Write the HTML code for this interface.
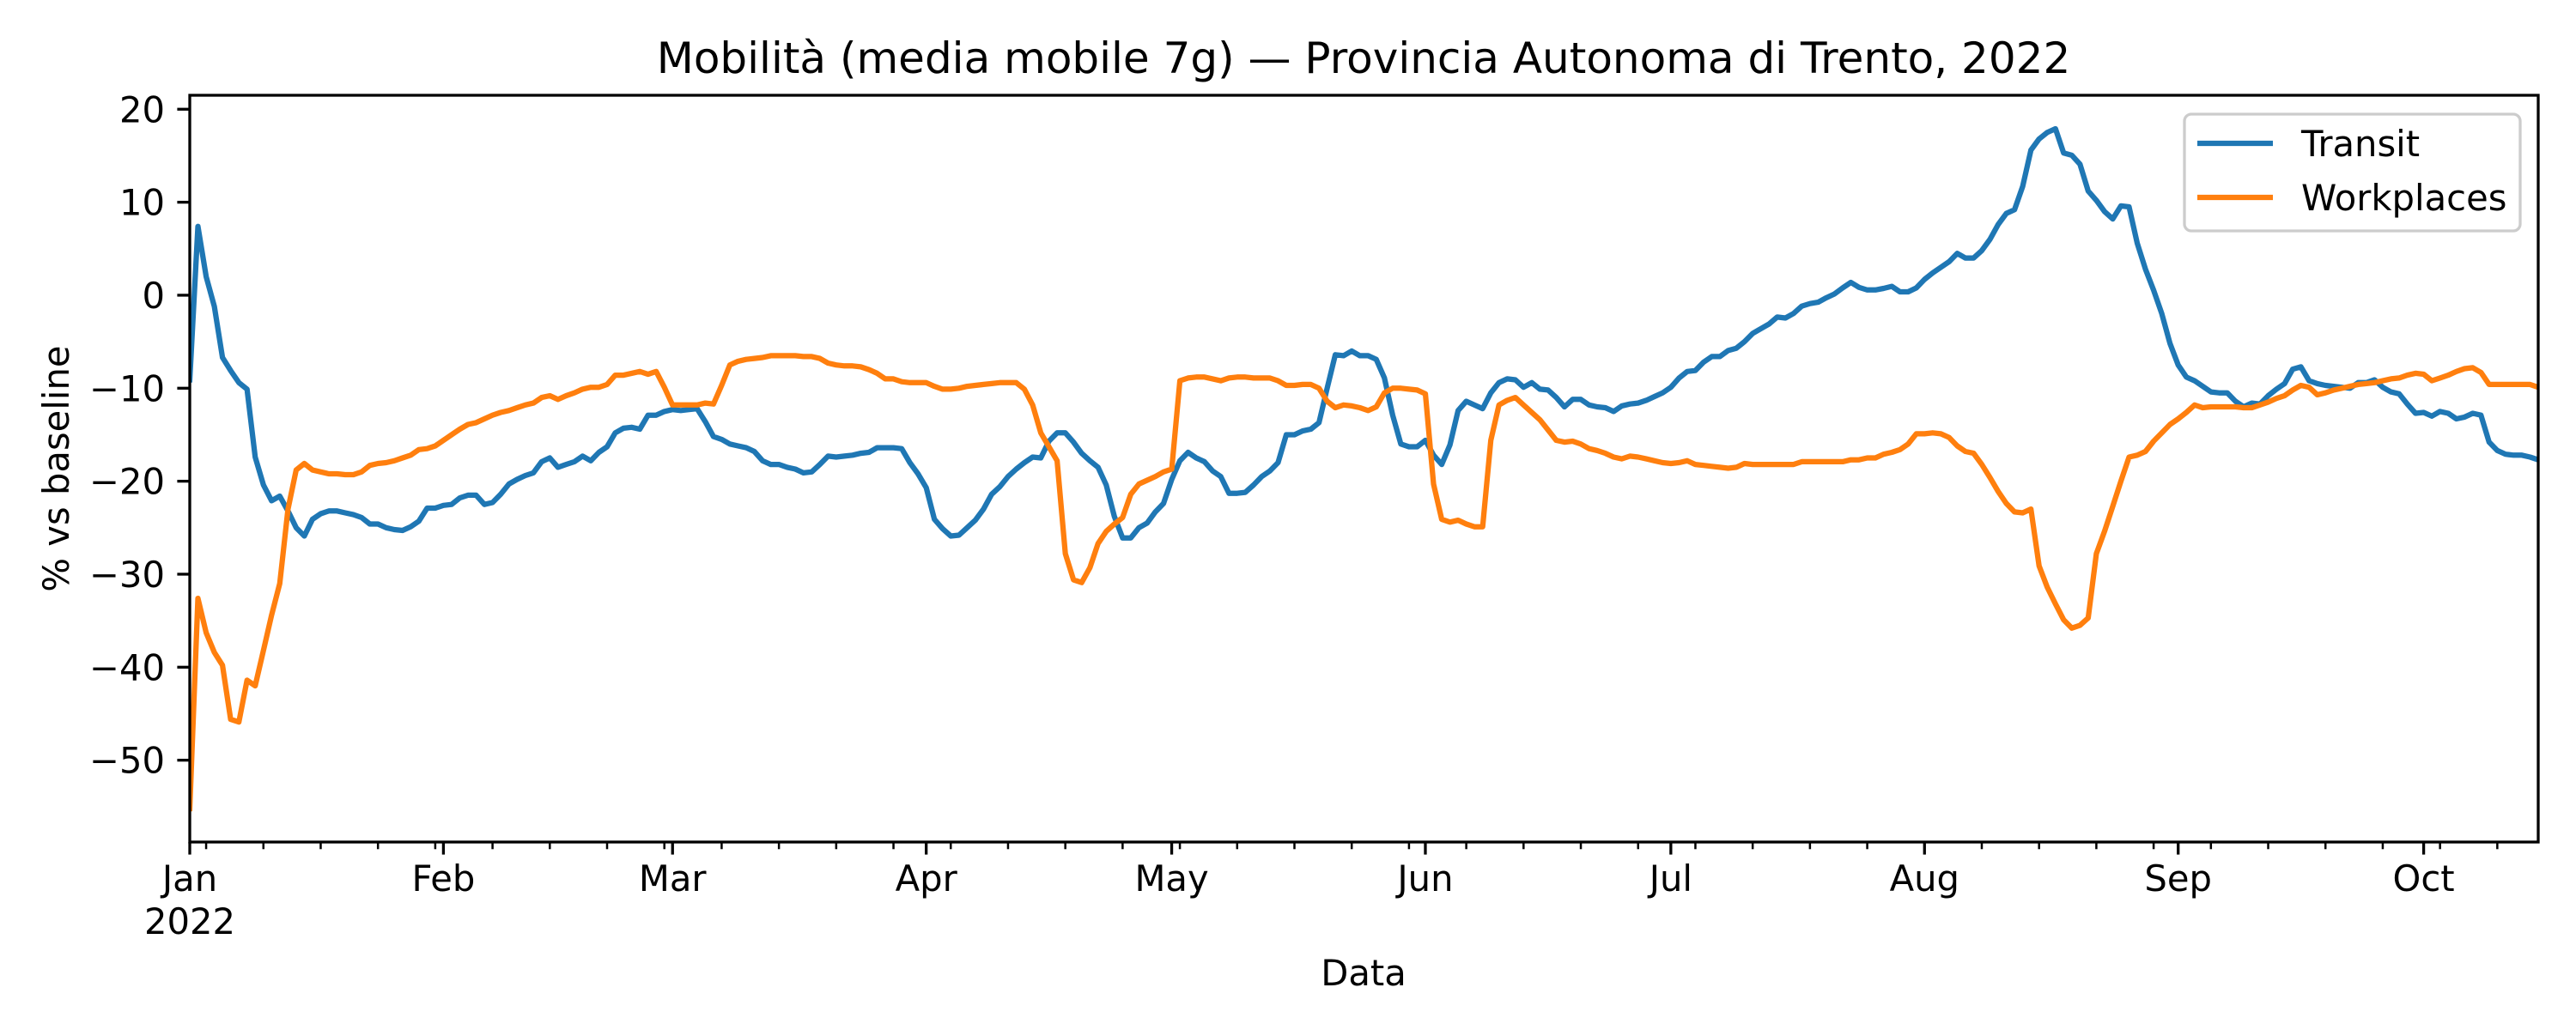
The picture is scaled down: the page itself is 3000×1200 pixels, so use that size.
<!DOCTYPE html>
<html><head><meta charset="utf-8"><style>
html,body{margin:0;padding:0;background:#fff;}
svg{display:block;font-family:"DejaVu Sans","Liberation Sans",sans-serif;}
</style></head><body>
<svg id="chart" width="3000" height="1200" viewBox="0 0 3000 1200" xmlns="http://www.w3.org/2000/svg">
<rect width="3000" height="1200" fill="#fff"/>
<text x="1588" y="85" text-anchor="middle" font-size="50" fill="#000">Mobilità (media mobile 7g) — Provincia Autonoma di Trento, 2022</text>
<g id="plot"></g>
<text x="1588" y="1148" text-anchor="middle" font-size="41.7" fill="#000">Data</text>
<text transform="translate(80,546) rotate(-90)" text-anchor="middle" font-size="41.7" fill="#000">% vs baseline</text>
<g>
<rect x="2544" y="133" width="391" height="136" rx="8" fill="#fff" fill-opacity="0.8" stroke="#cccccc" stroke-width="3.3"/>
<line x1="2559" y1="167" x2="2647" y2="167" stroke="#1f77b4" stroke-width="6.25"/>
<text x="2680" y="182" font-size="41.7" fill="#000">Transit</text>
<line x1="2559" y1="230" x2="2647" y2="230" stroke="#ff7f0e" stroke-width="6.25"/>
<text x="2680" y="245" font-size="41.7" fill="#000">Workplaces</text>
</g>
</svg>
<script>
const transit = [-9.1,7.4,2.0,-1.2,-6.7,-8.1,-9.4,-10.1,-17.4,-20.4,
-22.1,-21.6,-23.2,-25,-25.9,-24.1,-23.5,-23.2,-23.2,-23.4,
-23.6,-23.9,-24.6,-24.6,-25,-25.2,-25.3,-24.9,-24.3,-22.9,
-22.9,-22.6,-22.5,-21.8,-21.5,-21.5,-22.5,-22.3,-21.4,-20.3,
-19.8,-19.4,-19.1,-17.9,-17.5,-18.5,-18.2,-17.9,-17.3,-17.8,
-16.9,-16.3,-14.8,-14.3,-14.2,-14.4,-12.9,-12.9,-12.5,-12.3,
-12.4,-12.3,-12.2,-13.6,-15.2,-15.5,-16,-16.2,-16.4,-16.8,
-17.8,-18.2,-18.2,-18.5,-18.7,-19.1,-19,-18.2,-17.3,-17.4,
-17.3,-17.2,-17,-16.9,-16.4,-16.4,-16.4,-16.5,-18,-19.2,
-20.7,-24.1,-25.1,-25.9,-25.8,-25,-24.2,-23,-21.4,-20.6,
-19.5,-18.7,-18,-17.4,-17.5,-15.7,-14.8,-14.8,-15.8,-17,
-17.8,-18.5,-20.4,-23.8,-26.1,-26.1,-25,-24.5,-23.3,-22.4,
-19.8,-17.8,-16.9,-17.5,-17.9,-18.9,-19.5,-21.3,-21.3,-21.2,
-20.4,-19.5,-18.9,-18,-15,-15,-14.6,-14.4,-13.7,-10,
-6.4,-6.5,-6,-6.5,-6.5,-6.9,-8.9,-12.9,-16,-16.3,
-16.3,-15.6,-17.2,-18.2,-16.1,-12.4,-11.4,-11.8,-12.2,-10.5,
-9.4,-9,-9.1,-9.9,-9.4,-10.1,-10.2,-11,-12,-11.2,
-11.2,-11.8,-12,-12.1,-12.5,-11.9,-11.7,-11.6,-11.3,-10.9,
-10.5,-9.9,-8.9,-8.2,-8.1,-7.2,-6.6,-6.6,-5.95,-5.7,
-5,-4.1,-3.6,-3.1,-2.35,-2.45,-1.96,-1.18,-0.9,-0.75,
-0.27,0.14,0.79,1.38,0.84,0.57,0.57,0.73,0.95,0.36,
0.36,0.79,1.7,2.4,3,3.6,4.5,4,4,4.8,
6,7.6,8.8,9.2,11.7,15.6,16.8,17.5,17.9,15.3,
15.05,14.1,11.2,10.2,9,8.2,9.6,9.5,5.6,2.8,
0.54,-1.98,-5.2,-7.5,-8.8,-9.2,-9.8,-10.4,-10.5,-10.5,
-11.4,-12,-11.6,-11.7,-10.8,-10.1,-9.5,-7.95,-7.7,-9.2,
-9.5,-9.7,-9.8,-9.9,-10,-9.4,-9.4,-9.1,-9.9,-10.4,
-10.6,-11.7,-12.7,-12.6,-13,-12.5,-12.7,-13.3,-13.1,-12.7,
-12.9,-15.8,-16.7,-17.1,-17.2,-17.2,-17.4,-17.7];
const workplaces = [-55.2,-32.6,-36.3,-38.4,-39.8,-45.6,-45.9,-41.4,-42,-38.2,
-34.4,-31,-23,-18.8,-18.1,-18.8,-19,-19.2,-19.2,-19.3,
-19.3,-19,-18.3,-18.1,-18,-17.8,-17.5,-17.2,-16.6,-16.5,
-16.2,-15.6,-15,-14.4,-13.9,-13.7,-13.3,-12.9,-12.6,-12.4,
-12.1,-11.8,-11.6,-11,-10.8,-11.2,-10.8,-10.5,-10.1,-9.9,
-9.9,-9.6,-8.6,-8.6,-8.4,-8.2,-8.5,-8.2,-9.9,-11.8,
-11.8,-11.8,-11.8,-11.6,-11.7,-9.7,-7.5,-7.1,-6.9,-6.8,
-6.7,-6.5,-6.5,-6.5,-6.5,-6.6,-6.6,-6.8,-7.3,-7.5,
-7.6,-7.6,-7.7,-8,-8.4,-9,-9,-9.3,-9.4,-9.4,
-9.4,-9.8,-10.1,-10.1,-10,-9.8,-9.7,-9.6,-9.5,-9.4,
-9.4,-9.4,-10.1,-11.8,-14.8,-16.3,-17.8,-27.8,-30.6,-30.9,
-29.3,-26.7,-25.4,-24.6,-23.9,-21.4,-20.3,-19.9,-19.5,-19,
-18.7,-9.2,-8.9,-8.8,-8.8,-9,-9.2,-8.9,-8.8,-8.8,
-8.9,-8.9,-8.9,-9.2,-9.7,-9.7,-9.6,-9.6,-10,-11.4,
-12.1,-11.8,-11.9,-12.1,-12.4,-12,-10.5,-10,-10,-10.1,
-10.2,-10.6,-20.3,-24.1,-24.4,-24.2,-24.6,-24.9,-24.9,-15.6,
-11.8,-11.3,-11,-11.8,-12.6,-13.4,-14.5,-15.6,-15.8,-15.7,
-16,-16.5,-16.7,-17,-17.4,-17.6,-17.3,-17.4,-17.6,-17.8,
-18,-18.1,-18,-17.8,-18.2,-18.3,-18.4,-18.5,-18.6,-18.5,
-18.1,-18.2,-18.2,-18.2,-18.2,-18.2,-18.2,-17.9,-17.9,-17.9,
-17.9,-17.9,-17.9,-17.7,-17.7,-17.5,-17.5,-17.1,-16.9,-16.6,
-16,-14.9,-14.9,-14.8,-14.9,-15.3,-16.2,-16.8,-17,-18.2,
-19.6,-21.1,-22.4,-23.3,-23.4,-23,-29.1,-31.4,-33.2,-34.9,
-35.8,-35.5,-34.7,-27.8,-25.4,-22.7,-20,-17.4,-17.2,-16.8,
-15.7,-14.8,-13.9,-13.3,-12.6,-11.8,-12.1,-12,-12,-12,
-12,-12.1,-12.1,-11.8,-11.5,-11.1,-10.8,-10.2,-9.7,-9.9,
-10.7,-10.5,-10.2,-10,-9.8,-9.6,-9.5,-9.4,-9.2,-9,
-8.9,-8.6,-8.4,-8.5,-9.2,-8.9,-8.6,-8.2,-7.9,-7.8,
-8.3,-9.6,-9.6,-9.6,-9.6,-9.6,-9.6,-9.9];
const yTicks = [20,10,0,-10,-20,-30,-40,-50];
const monthLabels = ["Jan","Feb","Mar","Apr","May","Jun","Jul","Aug","Sep","Oct"];
const monthStartDays = [0,31,59,90,120,151,181,212,243,273];

const NS = "http://www.w3.org/2000/svg";
const L = 221, R = 2956, T = 111, B = 981;
const dayMin = 0, dayMax = 287, yMin = -58.8, yMax = 21.5;
function xs(d){ return L + (d - dayMin) / (dayMax - dayMin) * (R - L); }
function ys(v){ return B - (v - yMin) / (yMax - yMin) * (B - T); }
const plot = document.getElementById('plot');
function mk(tag, attrs){ const e = document.createElementNS(NS, tag); for (const k in attrs) e.setAttribute(k, attrs[k]); plot.appendChild(e); return e; }

// series
function series(vals, color, name){
  const d = vals.map((v,i)=> (i?'L':'M') + xs(i).toFixed(1) + ' ' + ys(v).toFixed(1)).join(' ');
  const p = mk('path', {d: d, fill:'none', stroke: color, 'stroke-width': 6.25, 'stroke-linejoin':'round', 'stroke-linecap':'square'});
  
  
}
const clip = document.createElementNS(NS,'clipPath'); clip.setAttribute('id','pc');
const cr = document.createElementNS(NS,'rect'); cr.setAttribute('x',L); cr.setAttribute('y',T); cr.setAttribute('width',R-L); cr.setAttribute('height',B-T);
clip.appendChild(cr); plot.appendChild(clip);
const g = document.createElementNS(NS,'g'); g.setAttribute('clip-path','url(#pc)'); plot.appendChild(g);


function addSeries(vals,color,name){
  const d = vals.map((v,i)=> (i?'L':'M') + xs(i).toFixed(1) + ' ' + ys(v).toFixed(1)).join(' ');
  const p = document.createElementNS(NS,'path');
  p.setAttribute('d', d); p.setAttribute('fill','none'); p.setAttribute('stroke',color);
  p.setAttribute('stroke-width','6.25'); p.setAttribute('stroke-linejoin','round'); p.setAttribute('stroke-linecap','square');
  
  
  g.appendChild(p);
}
addSeries(transit, '#1f77b4', 'transit-line');
addSeries(workplaces, '#ff7f0e', 'workplaces-line');

// y ticks
yTicks.forEach(v=>{
  const y = ys(v);
  const t = mk('line',{x1:L-14.6,x2:L,y1:y,y2:y,stroke:'#000','stroke-width':3.3});
  
  
  const lb = mk('text',{x:L-29,y:y+15,'text-anchor':'end','font-size':41.7,fill:'#000'});
  lb.textContent = v < 0 ? '\u2212' + Math.abs(v) : String(v);
  
  
});
// minor weekly ticks (Mondays)
for (let d = 2; d <= dayMax; d += 7){
  if (monthStartDays.indexOf(d) >= 0) continue;
  const x = xs(d);
  const t = mk('line',{x1:x,x2:x,y1:B,y2:B+8.3,stroke:'#000','stroke-width':2.5});
  
  
}
// month ticks
monthStartDays.forEach((d,i)=>{
  const x = xs(d);
  const t = mk('line',{x1:x,x2:x,y1:B,y2:B+14.6,stroke:'#000','stroke-width':3.3});
  
  
  const lb = mk('text',{x:x,y:1038,'text-anchor':'middle','font-size':41.7,fill:'#000'});
  lb.textContent = monthLabels[i];
  
  
});
const yr = mk('text',{x:xs(0),y:1088,'text-anchor':'middle','font-size':41.7,fill:'#000'});
yr.textContent = '2022';


// spines
const fr = mk('rect',{x:L,y:T,width:R-L,height:B-T,fill:'none',stroke:'#000','stroke-width':3.3});


</script>
</body></html>
